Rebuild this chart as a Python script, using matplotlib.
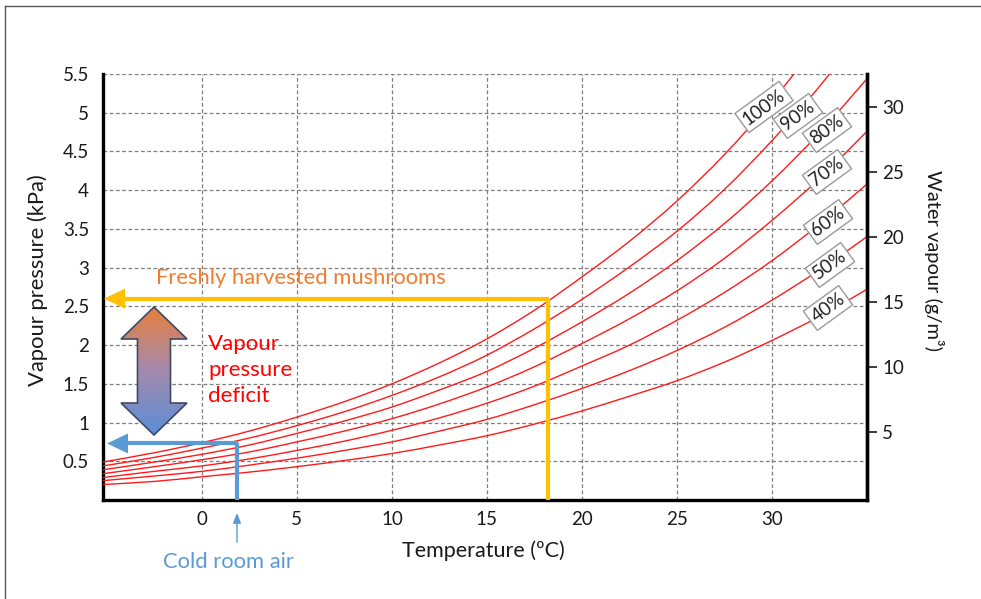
import matplotlib
matplotlib.use('Agg')
import matplotlib.pyplot as plt
import numpy as np
from matplotlib.patches import Polygon, PathPatch
from matplotlib.path import Path
from matplotlib.lines import Line2D
from matplotlib.colors import LinearSegmentedColormap
import matplotlib.transforms as mtransforms

plt.rcParams['font.family'] = ['Lato', 'DejaVu Sans']

# ---------------- data ----------------
temps = [-5.2, -2.5, 0, 2.5, 5, 7.5, 10, 12.5, 15, 17.5, 20, 22.5, 25, 27.5, 30, 32.5, 35]
vp_100 = [0.49, 0.61, 0.74, 0.89, 1.07, 1.27, 1.50, 1.77, 2.08, 2.45, 2.88, 3.34, 3.86, 4.46, 5.15, 5.93, 6.80]
vp_90 = [0.44, 0.55, 0.67, 0.80, 0.96, 1.14, 1.35, 1.59, 1.87, 2.21, 2.59, 3.01, 3.47, 4.01, 4.64, 5.34, 6.12]
vp_80 = [0.39, 0.49, 0.59, 0.71, 0.86, 1.02, 1.20, 1.42, 1.66, 1.96, 2.30, 2.67, 3.09, 3.57, 4.12, 4.74, 5.44]
vp_70 = [0.34, 0.43, 0.52, 0.62, 0.75, 0.89, 1.05, 1.24, 1.46, 1.72, 2.02, 2.34, 2.70, 3.12, 3.61, 4.15, 4.76]
vp_60 = [0.29, 0.37, 0.44, 0.53, 0.64, 0.76, 0.90, 1.06, 1.25, 1.47, 1.73, 2.00, 2.32, 2.68, 3.09, 3.56, 4.08]
vp_50 = [0.25, 0.31, 0.37, 0.45, 0.54, 0.64, 0.75, 0.89, 1.04, 1.23, 1.44, 1.67, 1.93, 2.23, 2.58, 2.97, 3.40]
vp_40 = [0.20, 0.24, 0.30, 0.36, 0.43, 0.51, 0.60, 0.71, 0.83, 0.98, 1.15, 1.34, 1.54, 1.78, 2.06, 2.37, 2.72]
rh_labels = ['100%', '90%', '80%', '70%', '60%', '50%', '40%']

x_ticks = [0, 5, 10, 15, 20, 25, 30]
y_ticks = [0.5, 1, 1.5, 2, 2.5, 3, 3.5, 4, 4.5, 5, 5.5]
y2_ticks = [5, 10, 15, 20, 25, 30]

fresh_T, fresh_P = 18.2, 2.6      # freshly harvested mushrooms
cold_T, cold_P = 1.85, 0.73       # cold room air

# ---------------- figure ----------------
W, H = 981, 599
fig = plt.figure(figsize=(W / 100, H / 100), dpi=100)
fx = lambda px: px / W
fy = lambda py: 1 - py / H

AX_L, AX_R, AX_T, AX_B = 103, 867, 74, 500
ax = fig.add_axes([fx(AX_L), fy(AX_B), fx(AX_R) - fx(AX_L), fy(AX_T) - fy(AX_B)])
XLIM = (-5.2, 35)
YLIM = (0, 5.5)


def smooth_path(xs, ys):
    """Smoothed line through the given points (Catmull-Rom drawn as cubic Beziers)."""
    p = np.column_stack([xs, ys]).astype(float)
    ext = np.vstack([p[0], p, p[-1]])
    verts = [p[0]]
    codes = [Path.MOVETO]
    for i in range(len(p) - 1):
        p0, p1, p2, p3 = ext[i], ext[i + 1], ext[i + 2], ext[i + 3]
        verts += [p1 + (p2 - p0) / 6, p2 - (p3 - p1) / 6, p2]
        codes += [Path.CURVE4] * 3
    return Path(verts, codes)


curves = [vp_100, vp_90, vp_80, vp_70, vp_60, vp_50, vp_40]
for vals in curves:
    ax.add_patch(PathPatch(smooth_path(temps, vals), fill=False, ec='#FF1A1A', lw=1.0, zorder=3))

# grid & ticks
ax.set_xticks(x_ticks)
ax.set_xticklabels([str(t) for t in x_ticks])
ax.set_yticks(y_ticks)
ax.set_yticklabels([f'{v:g}' for v in y_ticks])
ax.grid(True, color='#7f7f7f', linestyle=(0, (3, 2)), linewidth=0.9, zorder=0)
ax.set_axisbelow(True)
ax.tick_params(axis='both', length=0, labelsize=13.5, colors='#1a1a1a')
ax.tick_params(axis='y', pad=10)
ax.tick_params(axis='x', pad=8)
ax.spines['top'].set_visible(False)
for s in ['left', 'bottom', 'right']:
    ax.spines[s].set_linewidth(2.4)
    ax.spines[s].set_color('black')

# percent labels
px2x = (XLIM[1] - XLIM[0]) / (AX_R - AX_L)
px2y = (YLIM[1] - YLIM[0]) / (AX_B - AX_T)
to_data = lambda px, py: (XLIM[0] + (px - AX_L) * px2x, YLIM[0] + (AX_B - py) * px2y)
label_px = [(764, 107), (798, 116), (827, 130), (827, 172), (828, 222), (830, 265), (828, 308)]
for lab, (px, py) in zip(rh_labels, label_px):
    x, y = to_data(px, py)
    ax.text(x, y, lab, rotation=36, ha='center', va='center', fontsize=13.5,
            color='#222222', rotation_mode='anchor', zorder=6,
            bbox=dict(boxstyle='square,pad=0.18', fc='white', ec='#9a9a9a', lw=1.0))

# orange: freshly harvested
ORANGE = '#FFC000'
head_len = 21 * px2x
head_hw = 10 * px2y
tip_x = XLIM[0] + 1 * px2x
ax.plot([fresh_T, fresh_T], [YLIM[0], fresh_P], color=ORANGE, lw=3, zorder=4, solid_capstyle='butt')
ax.plot([tip_x + head_len * 0.9, fresh_T + 1.5 * px2x], [fresh_P, fresh_P], color=ORANGE, lw=3, zorder=4,
        solid_capstyle='butt')
ax.add_patch(Polygon([(tip_x, fresh_P), (tip_x + head_len, fresh_P + head_hw),
                      (tip_x + head_len, fresh_P - head_hw)], closed=True, fc=ORANGE, ec='none', zorder=4))

# blue: cold room
BLUE = '#5B9BD5'
tip_xb = XLIM[0] + 4 * px2x
ax.plot([cold_T, cold_T], [YLIM[0], cold_P], color=BLUE, lw=3, zorder=4, solid_capstyle='butt')
ax.plot([tip_xb + head_len * 0.9, cold_T + 1.5 * px2x], [cold_P, cold_P], color=BLUE, lw=3, zorder=4,
        solid_capstyle='butt')
ax.add_patch(Polygon([(tip_xb, cold_P), (tip_xb + head_len, cold_P + head_hw),
                      (tip_xb + head_len, cold_P - head_hw)], closed=True, fc=BLUE, ec='none', zorder=4))

# gradient double arrow
cx, _ = to_data(154, 0)
_, top = to_data(0, 307)
_, bot = to_data(0, 435)
hw_head = 33 * px2x
hw_shaft = 16.5 * px2x
head_h = 32 * px2y
verts = [(cx, top), (cx + hw_head, top - head_h), (cx + hw_shaft, top - head_h),
         (cx + hw_shaft, bot + head_h), (cx + hw_head, bot + head_h), (cx, bot),
         (cx - hw_head, bot + head_h), (cx - hw_shaft, bot + head_h),
         (cx - hw_shaft, top - head_h), (cx - hw_head, top - head_h)]
cmap = LinearSegmentedColormap.from_list('vpd', ['#5A8FD8', '#A48AAE', '#E77F3E'])
grad = np.linspace(0, 1, 256).reshape(-1, 1)
im = ax.imshow(grad, cmap=cmap, extent=[cx - hw_head, cx + hw_head, bot, top], origin='lower',
               aspect='auto', zorder=4, interpolation='bilinear')
poly = Polygon(verts, closed=True, fc='none', ec='#3D4A63', lw=1.2, zorder=4.2)
ax.add_patch(poly)
im.set_clip_path(poly)

ax.set_xlim(*XLIM)
ax.set_ylim(*YLIM)

# texts
fx0, fy0 = to_data(156, 278)
ax.text(fx0, fy0, 'Freshly harvested mushrooms', color='#ED7D31', fontsize=15.8, ha='left', va='center',
        zorder=5)
vx, vy = to_data(208, 370)
ax.text(vx, vy, 'Vapour\npressure\ndeficit', color='#FF0000', fontsize=16, ha='left', va='center',
        linespacing=1.35, zorder=5)

fig.text(fx(228), fy(562), 'Cold room air', color=BLUE, fontsize=15.8, ha='center', va='center')
trans = mtransforms.blended_transform_factory(ax.transData, ax.transAxes)
ax.annotate('', xy=(cold_T, (AX_B - 513) / (AX_B - AX_T)), xytext=(cold_T, (AX_B - 542) / (AX_B - AX_T)),
            xycoords=trans, textcoords=trans, annotation_clip=False,
            arrowprops=dict(arrowstyle='-|>,head_length=0.5,head_width=0.2', color=BLUE, lw=1,
                            mutation_scale=12, shrinkA=0, shrinkB=0))

# right axis
ax2 = ax.twinx()
ax2.set_ylim(-0.23, 32.5)
ax2.set_yticks(y2_ticks)
ax2.set_yticklabels([str(v) for v in y2_ticks])
ax2.tick_params(axis='y', length=7, width=1.2, pad=4, labelsize=13.5, colors='#1a1a1a')
for s in ['top', 'left', 'bottom']:
    ax2.spines[s].set_visible(False)
ax2.spines['right'].set_linewidth(2.4)

# axis labels
fig.text(fx(38), fy(280), 'Vapour pressure (kPa)', rotation=90, ha='center', va='center', fontsize=15.8,
         color='#1a1a1a')
fig.text(fx(483), fy(551), 'Temperature (ºC)', ha='center', va='center', fontsize=15.5, color='#1a1a1a')
fig.text(fx(934), fy(261), 'Water vapour (g/m³)', rotation=-90, ha='center', va='center', fontsize=14.5,
         color='#1a1a1a')

# page frame
fig.add_artist(Line2D([fx(5), fx(5)], [fy(6), 0], transform=fig.transFigure, color='#555555', lw=1))
fig.add_artist(Line2D([fx(5), 1], [fy(6), fy(6)], transform=fig.transFigure, color='#555555', lw=1))

fig.savefig('out.png', dpi=100)
